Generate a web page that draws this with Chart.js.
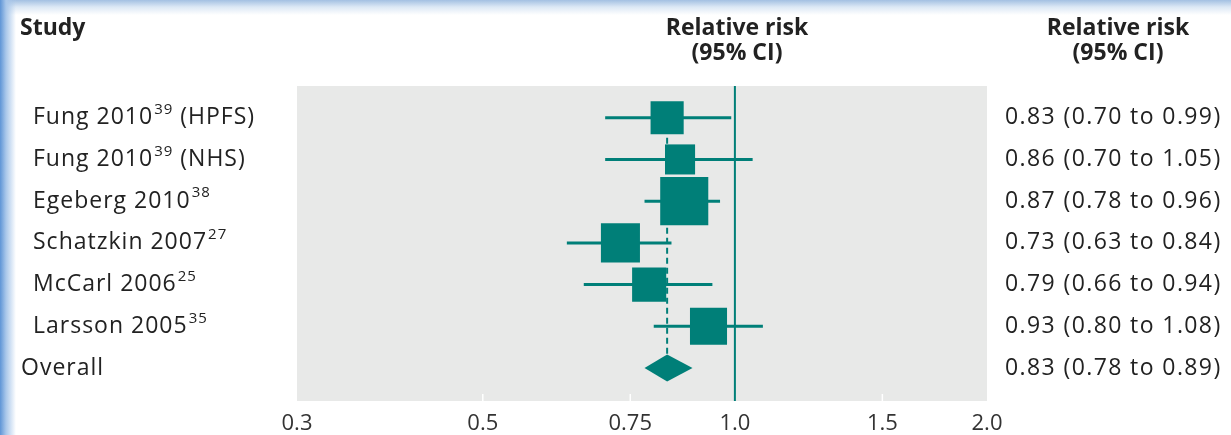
<!DOCTYPE html>
<html lang="en">
<head>
<meta charset="UTF-8">
<title>Forest plot</title>
<script src="https://cdn.jsdelivr.net/npm/chart.js"></script>
<style>
  html, body { margin: 0; padding: 0; background: #fff; }
  #wrap {
    position: relative; width: 1231px; height: 435px;
    background:
      linear-gradient(to right, #5f95d6 0px, #a9c7ea 6px, rgba(255,255,255,0) 16px),
      linear-gradient(to bottom, #a3c0e2 0px, #dce8f5 7px, #ffffff 15px);
  }
  canvas { position: absolute; left: 0; top: 0; }
</style>
</head>
<body>
<div id="wrap"><canvas id="chartCanvas" width="1231" height="435"></canvas></div>

<script>
// study data
const studies = ["Fung 2010", "Fung 2010", "Egeberg 2010", "Schatzkin 2007", "McCarl 2006", "Larsson 2005", "Overall"];
const refs = ["39", "39", "38", "27", "25", "35", ""];
const suffixes = [" (HPFS)", " (NHS)", "", "", "", "", ""];
const rr = [0.83, 0.86, 0.87, 0.73, 0.79, 0.93, 0.83];
const lower = [0.70, 0.70, 0.78, 0.63, 0.66, 0.80, 0.78];
const upper = [0.99, 1.05, 0.96, 0.84, 0.94, 1.08, 0.89];
const weights = [13.1, 10.8, 27.6, 18.2, 13.9, 16.4]; // estimated % weight (square area)
const tickValues = [0.3, 0.5, 0.75, 1, 1.5, 2];
const tickLabels = ["0.3", "0.5", "0.75", "1.0", "1.5", "2.0"];

const teal = "#007f78";
const textColor = "#222";
const font = '"Open Sans", "DejaVu Sans", sans-serif';
const nStudies = weights.length;
const overall = studies.length - 1;
const yMin = -0.76, yMax = 6.79;

// square side ~ sqrt(weight)
const sides = weights.map(w => 9.15 * Math.sqrt(w));

const datasets = [];
datasets.push({
    label: "squares",
    type: "scatter",
    data: weights.map((w, i) => ({ x: rr[i], y: i })),
    pointStyle: "rect",
    pointRadius: sides.map(s => s / Math.SQRT2),
    backgroundColor: teal,
    borderWidth: 0
});
for (let i = 0; i < nStudies; i++) {
    datasets.push({
        type: "line",
        data: [{ x: lower[i], y: i }, { x: upper[i], y: i }],
        borderColor: teal, borderWidth: 3, pointRadius: 0
    });
}
datasets.push({
    type: "line",
    data: [{ x: 1, y: yMin }, { x: 1, y: yMax }],
    borderColor: teal, borderWidth: 2, pointRadius: 0
});
datasets.push({
    type: "line",
    data: [{ x: rr[overall], y: 0 }, { x: rr[overall], y: overall }],
    borderColor: teal, borderWidth: 2, borderDash: [6, 4], pointRadius: 0
});

const forestPlugin = {
    id: "forest",
    beforeDraw(chart) {
        const { ctx, chartArea } = chart;
        ctx.save();
        ctx.fillStyle = "#e8e9e8";
        ctx.fillRect(chartArea.left, chartArea.top, chartArea.right - chartArea.left, chartArea.bottom - chartArea.top);
        // small white tick marks at the bottom
        const xs = chart.scales.x;
        ctx.strokeStyle = "#ffffff";
        ctx.lineWidth = 1.5;
        tickValues.slice(1, -1).forEach(v => {
            const px = xs.getPixelForValue(v);
            ctx.beginPath();
            ctx.moveTo(px, chartArea.bottom);
            ctx.lineTo(px, chartArea.bottom - 7);
            ctx.stroke();
        });
        ctx.restore();
    },
    afterDatasetsDraw(chart) {
        const { ctx } = chart;
        const xs = chart.scales.x, ys = chart.scales.y;
        const cy = ys.getPixelForValue(overall);
        ctx.save();
        ctx.fillStyle = teal;
        ctx.beginPath();
        ctx.moveTo(xs.getPixelForValue(lower[overall]), cy);
        ctx.lineTo(xs.getPixelForValue(rr[overall]), cy - 13.5);
        ctx.lineTo(xs.getPixelForValue(upper[overall]), cy);
        ctx.lineTo(xs.getPixelForValue(rr[overall]), cy + 13.5);
        ctx.closePath();
        ctx.fill();
        ctx.restore();
    },
    afterDraw(chart) {
        const { ctx } = chart;
        const ys = chart.scales.y;
        ctx.save();
        ctx.fillStyle = textColor;
        ctx.textBaseline = "middle";

        // headers
        ctx.font = "bold 23px " + font;
        ctx.textAlign = "left";
        ctx.fillText("Study", 20, 28);
        ctx.textAlign = "center";
        [737, 1118].forEach(cx => {
            ctx.fillText("Relative risk", cx, 28);
            ctx.fillText("(95% CI)", cx, 53);
        });

        // study labels with superscript refs
        ctx.textAlign = "left";
        studies.forEach((name, i) => {
            const y = ys.getPixelForValue(i);
            let x = i === overall ? 21 : 33;
            ctx.letterSpacing = "1px";
            ctx.font = "23px " + font;
            ctx.fillText(name, x, y);
            x += ctx.measureText(name).width;
            if (refs[i]) {
                ctx.font = "15px " + font;
                ctx.fillText(refs[i], x + 1, y - 8);
                x += ctx.measureText(refs[i]).width + 1;
            }
            if (suffixes[i]) {
                ctx.font = "23px " + font;
                ctx.fillText(suffixes[i], x, y);
            }
            // right column
            ctx.letterSpacing = "1.4px";
            ctx.font = "23px " + font;
            const txt = rr[i].toFixed(2) + " (" + lower[i].toFixed(2) + " to " + upper[i].toFixed(2) + ")";
            ctx.fillText(txt, 1005, y);
        });
        ctx.restore();
    }
};

new Chart(document.getElementById("chartCanvas"), {
    type: "scatter",
    data: { datasets: datasets },
    options: {
        responsive: false,
        animation: false,
        events: [],
        layout: { padding: { left: 297, right: 244, top: 86, bottom: -2 } },
        plugins: { legend: { display: false }, tooltip: { enabled: false } },
        scales: {
            x: {
                type: "logarithmic",
                min: 0.3, max: 2,
                grid: { display: false },
                border: { display: false },
                afterBuildTicks: scale => { scale.ticks = tickValues.map(v => ({ value: v })); },
                afterFit: scale => { scale.height = 29; },
                ticks: {
                    autoSkip: false, maxRotation: 0, padding: 2,
                    color: "#333",
                    font: { size: 22, family: font },
                    callback: (v, idx) => tickLabels[idx]
                }
            },
            y: { type: "linear", min: yMin, max: yMax, reverse: true, display: false }
        }
    },
    plugins: [forestPlugin]
});
</script>
</body>
</html>
